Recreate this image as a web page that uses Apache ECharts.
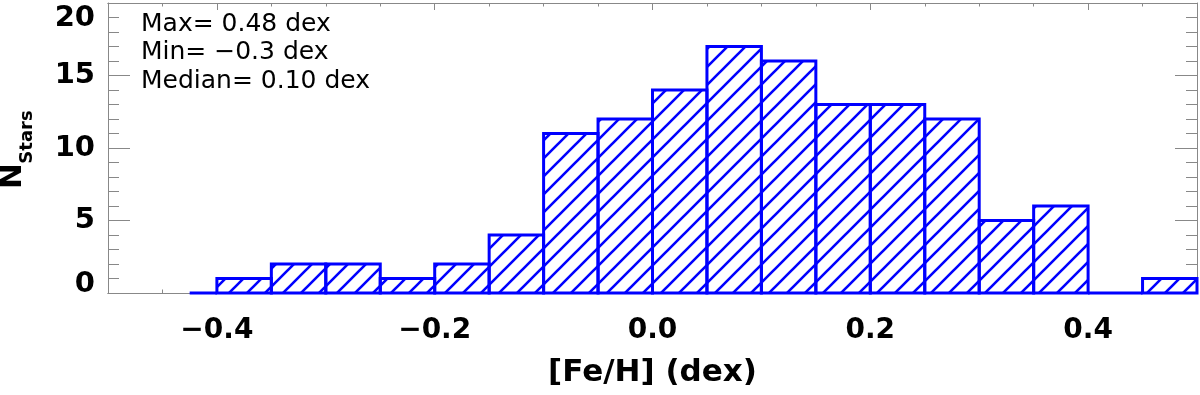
<!DOCTYPE html>
<html>
<head>
<meta charset="utf-8">
<title>[Fe/H] histogram</title>
<script src="https://cdn.jsdelivr.net/npm/echarts@6/dist/echarts.min.js"></script>
<style>
html, body { margin: 0; padding: 0; background: #fff; }
#container { width: 1200px; height: 395px; }
</style>
</head>
<body>
<div id="container"></div>
<script>
// histogram of [Fe/H]: lower edge, upper edge and count of each bin
var binLo  = [-0.425, -0.40, -0.35, -0.30, -0.25, -0.20, -0.15, -0.10, -0.05, 0.00, 0.05, 0.10, 0.15, 0.20, 0.25, 0.30, 0.35, 0.40, 0.45];
var binHi  = [-0.40, -0.35, -0.30, -0.25, -0.20, -0.15, -0.10, -0.05, 0.00, 0.05, 0.10, 0.15, 0.20, 0.25, 0.30, 0.35, 0.40, 0.45, 0.50];
var counts = [0, 1, 2, 2, 1, 2, 4, 11, 12, 14, 17, 16, 13, 13, 12, 5, 6, 0, 1];

// tick positions of the x axis
var xMajorTicks = [-0.4, -0.2, 0.0, 0.2, 0.4];
var xMinorTicks = [-0.45, -0.35, -0.30, -0.25, -0.15, -0.10, -0.05, 0.05, 0.10, 0.15, 0.25, 0.30, 0.35, 0.45];

var statLines = ['Max= 0.48 dex', 'Min= \u22120.3 dex', 'Median= 0.10 dex'];

var FONT = '"DejaVu Sans", sans-serif';
var BLUE = '#0000ff';
var GRAY = '#888888';

// diagonal hatch used to fill the bars
function makeHatch() {
	var c = document.createElement('canvas');
	c.width = 18;
	c.height = 18;
	var g = c.getContext('2d');
	g.strokeStyle = BLUE;
	g.lineWidth = 2.6;
	g.beginPath();
	g.moveTo(-2, 20); g.lineTo(20, -2);
	g.moveTo(-2, 2); g.lineTo(2, -2);
	g.moveTo(16, 20); g.lineTo(20, 16);
	g.stroke();
	return c;
}
var hatch = { image: makeHatch(), repeat: 'repeat' };

var binData = binLo.map(function (lo, i) { return [lo, binHi[i], counts[i]]; });

function minusFmt(v) {
	return (v < 0 ? '\u2212' : '') + Math.abs(v).toFixed(1);
}

function barItem(withFill) {
	return function (params, api) {
		var p0 = api.coord([api.value(0), api.value(2)]);
		var p1 = api.coord([api.value(1), 0]);
		return {
			type: 'rect',
			shape: { x: p0[0], y: p0[1], width: p1[0] - p0[0], height: p1[1] - p0[1] },
			style: withFill ? { fill: hatch, stroke: null } : { fill: null, stroke: BLUE, lineWidth: 3 }
		};
	};
}

var frameLine = { show: true, onZero: false, lineStyle: { color: GRAY, width: 1 } };

function xAxisDef(pos, ticks, len, labels) {
	return {
		type: 'value', position: pos, min: -0.5, max: 0.5,
		axisLine: frameLine,
		splitLine: { show: false },
		axisTick: { show: true, inside: true, length: len, customValues: ticks, lineStyle: { color: GRAY } },
		axisLabel: labels ? {
			show: true, customValues: ticks, formatter: minusFmt, margin: 24,
			fontFamily: FONT, fontWeight: 'bold', fontSize: 28, color: '#000'
		} : { show: false }
	};
}

var dom = document.getElementById('container');
var myChart = echarts.init(dom);
var option = {
	animation: false,
	backgroundColor: '#fff',
	grid: { left: 108, right: 3, top: 3, bottom: 102 },
	xAxis: [
		Object.assign(xAxisDef('bottom', xMajorTicks, 7, true), {
			name: '[Fe/H] (dex)', nameLocation: 'middle', nameGap: 64,
			nameTextStyle: { fontFamily: FONT, fontWeight: 'bold', fontSize: 31, color: '#000' }
		}),
		xAxisDef('bottom', xMinorTicks, 3.5, false),
		xAxisDef('top', xMajorTicks, 7, false),
		xAxisDef('top', xMinorTicks, 3.5, false)
	],
	yAxis: [
		{
			type: 'value', position: 'left', min: 0, max: 20, interval: 5,
			axisLine: frameLine,
			splitLine: { show: false },
			axisTick: { show: true, inside: true, length: 22, lineStyle: { color: GRAY } },
			minorTick: { show: true, splitNumber: 5, length: 11, lineStyle: { color: GRAY } },
			axisLabel: {
				margin: 13, fontFamily: FONT, fontWeight: 'bold', fontSize: 29, color: '#000',
				formatter: function (v) {
					if (v === 0) return '{lo|0}';
					if (v === 20) return '{hi|20}';
					return String(v);
				},
				rich: {
					lo: { fontFamily: FONT, fontWeight: 'bold', fontSize: 29, color: '#000', padding: [0, 0, 17, 0] },
					hi: { fontFamily: FONT, fontWeight: 'bold', fontSize: 29, color: '#000', padding: [31, 0, 0, 0] }
				}
			}
		},
		{
			type: 'value', position: 'right', min: 0, max: 20, interval: 5,
			axisLine: frameLine,
			splitLine: { show: false },
			axisTick: { show: true, inside: true, length: 22, lineStyle: { color: GRAY } },
			minorTick: { show: true, splitNumber: 5, length: 11, lineStyle: { color: GRAY } },
			axisLabel: { show: false }
		}
	],
	graphic: [
		{ type: 'text', x: 13, y: 176, rotation: Math.PI / 2,
		  style: { text: 'N', font: 'bold 31px ' + FONT, fill: '#000', align: 'center', verticalAlign: 'middle' } },
		{ type: 'text', x: 27, y: 137, rotation: Math.PI / 2,
		  style: { text: 'Stars', font: 'bold 18px ' + FONT, fill: '#000', align: 'center', verticalAlign: 'middle' } },
		{ type: 'text', x: 141, y: 24,
		  style: { text: statLines[0], font: '25px ' + FONT, fill: '#000', verticalAlign: 'middle' } },
		{ type: 'text', x: 141, y: 52.5,
		  style: { text: statLines[1], font: '25px ' + FONT, fill: '#000', verticalAlign: 'middle' } },
		{ type: 'text', x: 141, y: 81,
		  style: { text: statLines[2], font: '25px ' + FONT, fill: '#000', verticalAlign: 'middle' } }
	],
	series: [
		{
			name: 'hatch', type: 'custom', z: 2,
			xAxisIndex: 0, yAxisIndex: 0,
			encode: { x: [0, 1], y: 2 },
			renderItem: barItem(true),
			data: binData
		},
		{
			name: 'outline', type: 'custom', z: 3,
			xAxisIndex: 0, yAxisIndex: 0,
			encode: { x: [0, 1], y: 2 },
			renderItem: barItem(false),
			data: binData
		}
	]
};
if (option && typeof option === "object") {
	myChart.setOption(option, true);
}
</script>
</body>
</html>
